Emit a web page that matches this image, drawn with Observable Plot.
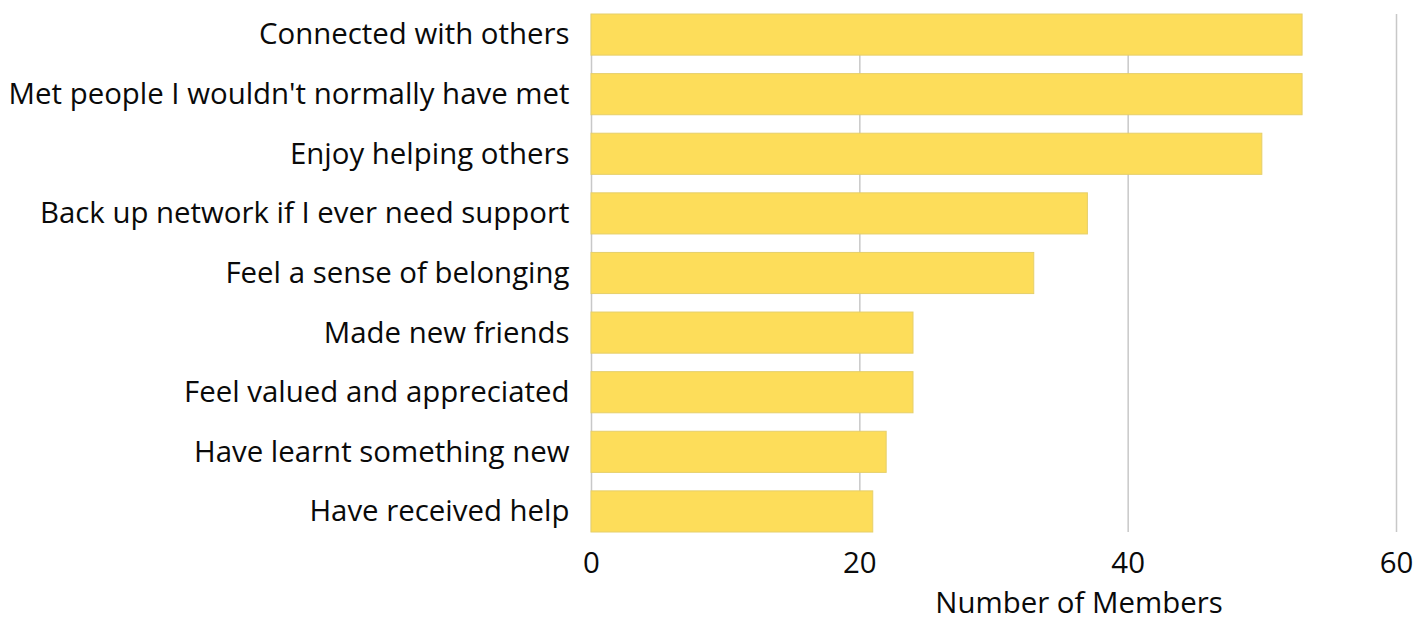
<!DOCTYPE html>
<html>
<head>
<meta charset="utf-8">
<script src="https://cdn.jsdelivr.net/npm/d3@7"></script>
<script src="https://cdn.jsdelivr.net/npm/@observablehq/plot@0.6"></script>
<style>
  html, body { margin: 0; padding: 0; background: #fff; }
  #chart svg { display: block; }
</style>
</head>
<body>
<div id="chart"></div>
<script>
const categories = [
  "Connected with others",
  "Met people I wouldn't normally have met",
  "Enjoy helping others",
  "Back up network if I ever need support",
  "Feel a sense of belonging",
  "Made new friends",
  "Feel valued and appreciated",
  "Have learnt something new",
  "Have received help"
];
const members = [53, 53, 50, 37, 33, 24, 24, 22, 21];
const xTicks = [0, 20, 40, 60];
const xLabel = "Number of Members";

const data = categories.map((c, i) => ({category: c, value: members[i]}));

const chart = Plot.plot({
  width: 1415,
  height: 627,
  marginLeft: 591,
  marginRight: 19,
  marginTop: 14,
  marginBottom: 95,
  style: {fontFamily: "'Open Sans', sans-serif", fontSize: "29.4px", color: "#0a0a0a", background: "#fff"},
  x: {domain: [0, 60], ticks: xTicks},
  y: {domain: categories, paddingInner: 0.31, paddingOuter: 0, round: false},
  marks: [
    Plot.gridX(xTicks, {stroke: "#c8c8c8", strokeOpacity: 1, strokeWidth: 1.5}),
    Plot.barX(data, {x: "value", y: "category", fill: "#fddd5a", stroke: "#e6cf6a", strokeWidth: 1}),
    Plot.axisY({tickSize: 0, tickPadding: 22, label: null, fontSize: 29.4}),
    Plot.axisX(xTicks, {tickSize: 0, tickPadding: 20, label: null, fontSize: 29.4}),
    Plot.text([xLabel], {frameAnchor: "bottom", dx: 85, dy: 80, fontSize: 29.4, fill: "#0a0a0a"})
  ]
});
document.getElementById("chart").appendChild(chart);
</script>
</body>
</html>
